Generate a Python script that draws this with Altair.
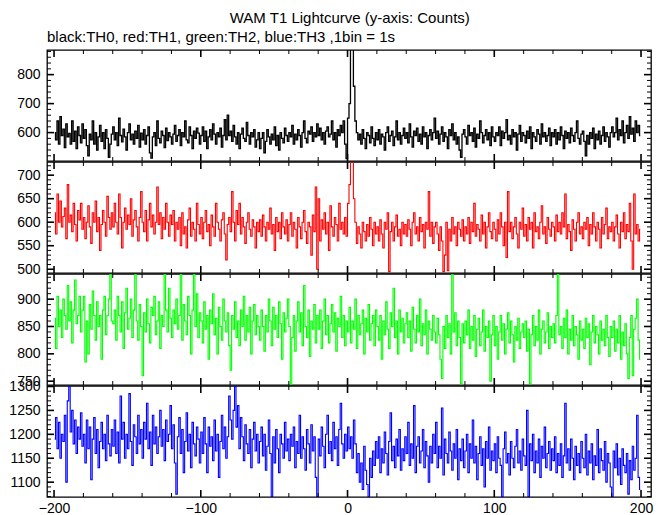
import math
import altair as alt
import pandas as pd

title_text = "WAM T1 Lightcurve (y-axis: Counts)"
subtitle_text = "black:TH0, red:TH1, green:TH2, blue:TH3 ,1bin = 1s"

# TH0 (black), counts per 1 s bin, t = -199.5 .. 199.5
th0 = [
    600, 575, 640, 560, 655, 590, 612, 548, 630, 585, 597, 560, 640, 570, 605, 545, 620, 590, 565, 630,
    580, 610, 555, 520, 595, 575, 640, 560, 600, 540, 585, 625, 570, 600, 545, 610, 580, 515, 560, 595,
    620, 575, 600, 555, 650, 590, 568, 612, 585, 540, 600, 630, 575, 595, 560, 605, 580, 625, 550, 598,
    575, 610, 560, 590, 620, 530, 512, 585, 600, 555, 640, 580, 565, 605, 590, 548, 615, 572, 600, 585,
    560, 595, 625, 570, 590, 610, 555, 600, 585, 640, 575, 565, 620, 590, 545, 605, 580, 615, 598, 560,
    590, 620, 570, 605, 545, 585, 610, 575, 630, 595, 560, 600, 585, 615, 550, 590, 645, 575, 660, 590,
    605, 570, 625, 585, 560, 600, 545, 595, 615, 580, 570, 635, 590, 560, 600, 585, 610, 550, 575, 600,
    545, 580, 600, 530, 570, 610, 585, 560, 595, 575, 620, 555, 590, 540, 600, 580, 565, 615, 590, 570,
    600, 585, 625, 560, 595, 575, 610, 590, 550, 600, 640, 580, 565, 605, 595, 620, 570, 600, 585, 630,
    590, 615, 575, 600, 560, 605, 620, 585, 595, 640, 575, 600, 550, 610, 590, 625, 600, 640, 560, 510,
    650, 700, 920, 900, 760, 640, 600, 575, 595, 560, 610, 580, 545, 600, 590, 565, 620, 580, 555, 600,
    575, 610, 560, 595, 585, 540, 600, 620, 570, 590, 605, 555, 585, 640, 575, 600, 560, 590, 615, 580,
    600, 565, 630, 585, 550, 605, 590, 615, 570, 595, 560, 620, 585, 600, 545, 590, 610, 575, 600, 650,
    580, 605, 560, 595, 620, 570, 600, 585, 545, 610, 590, 630, 575, 600, 560, 585, 540, 515, 595, 610,
    585, 560, 625, 590, 600, 570, 615, 550, 595, 580, 640, 600, 565, 590, 610, 575, 600, 555, 620, 585,
    570, 600, 590, 620, 555, 605, 580, 600, 645, 575, 590, 560, 610, 585, 600, 540, 595, 625, 570, 600,
    590, 565, 605, 580, 620, 545, 600, 585, 570, 610, 595, 560, 630, 585, 600, 570, 590, 615, 555, 600,
    585, 610, 560, 600, 575, 620, 590, 545, 605, 580, 600, 565, 615, 590, 570, 600, 640, 580, 560, 595,
    605, 570, 520, 590, 560, 600, 580, 615, 545, 595, 575, 605, 560, 590, 620, 570, 600, 585, 550, 600,
    620, 585, 600, 650, 575, 610, 590, 640, 565, 600, 625, 580, 655, 595, 615, 570, 640, 600, 625, 590,
]

# TH1 (red)
th1 = [
    620, 575, 660, 600, 645, 590, 612, 630, 565, 680, 600, 615, 580, 640, 595, 560, 625, 605, 640, 585,
    610, 565, 600, 635, 590, 555, 620, 600, 645, 580, 610, 540, 595, 625, 600, 570, 655, 610, 585, 620,
    590, 640, 600, 575, 660, 610, 545, 600, 630, 585, 615, 595, 650, 570, 605, 625, 590, 560, 610, 665,
    600, 580, 625, 560, 605, 640, 590, 615, 575, 600, 675, 595, 620, 565, 610, 585, 640, 600, 570, 615,
    595, 625, 560, 600, 585, 610, 550, 620, 575, 590, 545, 605, 630, 570, 600, 585, 560, 640, 595, 575,
    610, 565, 600, 625, 580, 595, 550, 615, 590, 570, 640, 600, 585, 560, 605, 620, 575, 520, 595, 610,
    580, 665, 600, 560, 625, 595, 640, 575, 610, 590, 555, 600, 620, 585, 570, 605, 590, 545, 600, 580,
    605, 570, 615, 590, 560, 600, 585, 630, 575, 595, 540, 610, 580, 600, 565, 620, 590, 575, 605, 560,
    595, 620, 570, 600, 585, 545, 610, 590, 565, 600, 625, 580, 555, 600, 590, 530, 615, 580, 675, 500,
    650, 560, 605, 585, 620, 575, 600, 540, 635, 590, 570, 610, 595, 560, 640, 585, 600, 575, 610, 570,
    640, 680, 760, 740, 650, 600, 555, 590, 575, 545, 600, 580, 560, 595, 570, 610, 585, 550, 600, 575,
    590, 560, 605, 575, 545, 600, 585, 620, 495, 580, 600, 560, 590, 615, 570, 585, 550, 600, 575, 595,
    570, 605, 585, 550, 600, 620, 575, 590, 560, 610, 580, 595, 545, 600, 585, 665, 570, 600, 555, 590,
    600, 575, 540, 590, 560, 495, 530, 600, 497, 585, 560, 610, 575, 590, 550, 600, 585, 570, 605, 560,
    590, 575, 610, 555, 600, 580, 640, 570, 595, 585, 560, 615, 575, 600, 545, 590, 620, 580, 565, 600,
    585, 560, 605, 575, 620, 590, 550, 600, 525, 665, 580, 600, 565, 590, 610, 575, 545, 600, 585, 630,
    570, 595, 560, 610, 585, 600, 545, 620, 580, 590, 565, 600, 635, 575, 590, 555, 610, 585, 570, 600,
    590, 560, 615, 580, 600, 575, 620, 590, 660, 565, 595, 580, 540, 605, 585, 560, 600, 620, 575, 590,
    565, 600, 585, 610, 550, 595, 575, 620, 590, 560, 600, 585, 545, 610, 575, 595, 630, 565, 590, 580,
    600, 560, 590, 615, 575, 545, 600, 580, 620, 565, 595, 580, 640, 560, 500, 660, 575, 595, 560, 585,
]

# TH2 (green)
th2 = [
    865, 810, 905, 850, 880, 830, 900, 870, 845, 925, 860, 895, 820, 880, 935, 855, 870, 905, 840, 880,
    905, 785, 860, 800, 890, 845, 915, 870, 825, 895, 850, 870, 790, 880, 905, 835, 870, 900, 945, 860,
    855, 880, 825, 905, 870, 840, 895, 810, 875, 920, 845, 865, 900, 830, 880, 945, 860, 825, 890, 850,
    760, 875, 840, 900, 855, 820, 885, 870, 905, 835, 860, 895, 810, 870, 850, 945, 880, 840, 920, 865,
    830, 880, 855, 900, 845, 870, 945, 825, 890, 860, 835, 905, 870, 800, 880, 945, 850, 910, 830, 875,
    860, 820, 895, 845, 870, 790, 880, 855, 910, 835, 865, 800, 885, 850, 825, 900, 860, 840, 875, 815,
    770, 870, 845, 895, 830, 860, 815, 880, 850, 905, 825, 870, 840, 885, 800, 860, 890, 835, 870, 850,
    825, 880, 850, 805, 870, 840, 900, 860, 815, 885, 845, 870, 830, 895, 855, 790, 875, 840, 865, 900,
    850, 740, 830, 870, 805, 860, 895, 840, 875, 815, 925, 850, 830, 880, 795, 860, 845, 890, 820, 870,
    845, 880, 810, 860, 900, 835, 870, 820, 855, 890, 840, 875, 805, 865, 850, 905, 830, 870, 815, 860,
    840, 885, 820, 860, 845, 900, 810, 870, 835, 855, 880, 800, 865, 840, 890, 825, 855, 870, 815, 880,
    850, 825, 870, 790, 860, 835, 895, 845, 810, 875, 850, 920, 830, 860, 800, 880, 840, 865, 820, 855,
    875, 830, 860, 805, 885, 845, 820, 870, 840, 900, 815, 855, 835, 880, 800, 860, 845, 825, 870, 840,
    820, 865, 835, 790, 755, 850, 810, 870, 830, 855, 800, 945, 840, 875, 815, 860, 830, 745, 855, 820,
    860, 835, 880, 810, 850, 825, 870, 795, 845, 865, 815, 840, 880, 805, 850, 830, 860, 750, 835, 870,
    815, 850, 790, 840, 870, 825, 855, 800, 845, 875, 820, 860, 835, 785, 850, 825, 865, 810, 840, 855,
    830, 860, 805, 845, 745, 835, 870, 815, 850, 825, 880, 800, 845, 860, 820, 840, 875, 810, 850, 830,
    855, 820, 870, 945, 835, 850, 810, 865, 830, 880, 800, 845, 825, 870, 815, 850, 835, 790, 860, 825,
    845, 810, 865, 830, 855, 780, 840, 870, 820, 850, 835, 800, 860, 825, 845, 815, 870, 830, 795, 850,
    830, 860, 805, 845, 820, 870, 790, 840, 815, 855, 800, 755, 830, 870, 760, 845, 865, 900, 825, 790,
]

# TH3 (blue)
th3 = [
    1190, 1235, 1170, 1225, 1150, 1200, 1185, 1240, 1100, 1270, 1300, 1205, 1250, 1180, 1230, 1160, 1215, 1190, 1245, 1175,
    1200, 1140, 1230, 1170, 1215, 1105, 1190, 1235, 1160, 1210, 1130, 1185, 1225, 1170, 1200, 1145, 1240, 1180, 1155, 1210,
    1175, 1230, 1160, 1205, 1140, 1280, 1190, 1225, 1150, 1200, 1170, 1285, 1185, 1135, 1220, 1195, 1160, 1240, 1180, 1210,
    1150, 1225, 1190, 1265, 1170, 1205, 1135, 1240, 1180, 1215, 1160, 1195, 1250, 1175, 1210, 1145, 1230, 1185, 1200, 1260,
    1170, 1220, 1140, 1075, 1195, 1235, 1160, 1210, 1120, 1185, 1245, 1165, 1200, 1130, 1225, 1180, 1155, 1215, 1190, 1140,
    1205, 1160, 1235, 1180, 1120, 1215, 1175, 1195, 1145, 1230, 1165, 1200, 1110, 1185, 1240, 1170, 1215, 1150, 1195, 1280,
    1230, 1190, 1250, 1300, 1215, 1260, 1170, 1235, 1195, 1145, 1220, 1180, 1160, 1210, 1130, 1190, 1225, 1165, 1200, 1140,
    1185, 1215, 1155, 1200, 1125, 1175, 1230, 1160, 1070, 1195, 1140, 1210, 1170, 1120, 1200, 1180, 1150, 1225, 1165, 1190,
    1145, 1200, 1175, 1215, 1130, 1185, 1160, 1240, 1150, 1195, 1170, 1125, 1210, 1180, 1140, 1220, 1165, 1195, 1110, 1070,
    1190, 1155, 1215, 1175, 1130, 1200, 1240, 1160, 1185, 1145, 1225, 1170, 1195, 1135, 1210, 1265, 1180, 1150, 1200, 1165,
    1215, 1170, 1195, 1150, 1230, 1180, 1120, 1160, 1100, 1140, 1085, 1175, 1125, 1095, 1070, 1150, 1110, 1165, 1135, 1185,
    1150, 1195, 1120, 1170, 1140, 1205, 1160, 1115, 1185, 1245, 1145, 1175, 1130, 1190, 1155, 1210, 1125, 1170, 1145, 1195,
    1160, 1225, 1135, 1180, 1150, 1260, 1120, 1175, 1195, 1140, 1165, 1210, 1130, 1185, 1155, 1100, 1175, 1140, 1200, 1160,
    1225, 1130, 1175, 1150, 1255, 1115, 1190, 1160, 1140, 1205, 1165, 1125, 1180, 1150, 1210, 1105, 1170, 1145, 1190, 1130,
    1165, 1200, 1120, 1180, 1150, 1230, 1140, 1175, 1105, 1160, 1195, 1135, 1170, 1090, 1185, 1150, 1215, 1125, 1165, 1145,
    1180, 1120, 1195, 1150, 1135, 1070, 1170, 1205, 1140, 1160, 1115, 1185, 1150, 1130, 1175, 1210, 1140, 1165, 1125, 1190,
    1155, 1135, 1250, 1070, 1180, 1145, 1200, 1120, 1165, 1140, 1190, 1110, 1175, 1150, 1215, 1130, 1160, 1185, 1125, 1170,
    1145, 1195, 1120, 1160, 1135, 1180, 1110, 1155, 1265, 1140, 1170, 1125, 1190, 1150, 1105, 1175, 1135, 1160, 1120, 1185,
    1150, 1130, 1200, 1115, 1165, 1140, 1180, 1105, 1155, 1135, 1210, 1120, 1170, 1145, 1125, 1185, 1100, 1160, 1140, 1090,
    1070, 1165, 1130, 1180, 1115, 1150, 1095, 1170, 1135, 1120, 1160, 1075, 1145, 1105, 1175, 1125, 1150, 1240, 1110, 1085,
]

# bin centres (1 bin = 1 s)
time_s = [-199.5 + i for i in range(len(th0))]

x_major = [-200, -100, 0, 100, 200]
x_minor_step = 20

th0_major = [600, 700, 800]
th1_major = [500, 550, 600, 650, 700]
th2_major = [750, 800, 850, 900]
th3_major = [1100, 1150, 1200, 1250, 1300]

W = 604
H = 111
FONT = "Liberation Sans"
XDOM = [-204.8, 206.8]


def xscale():
    return alt.Scale(domain=XDOM, nice=False, zero=False)


def yscale(d):
    return alt.Scale(domain=d, nice=False, zero=False)


def minor_ticks(dom, step, major):
    start = int(math.ceil(dom[0] / step) * step)
    return [v for v in range(start, int(dom[1]) + 1, step) if v not in major]


def panel(values, color, sw, ydom, major, ystep, show_x):
    yaxis = alt.Axis(values=major, ticks=False, domain=False, grid=False, title=None,
                     labelFont=FONT, labelFontSize=14, labelColor="black", labelPadding=7,
                     minExtent=38, maxExtent=38, labelOverlap=False, format="d")
    if show_x:
        xaxis = alt.Axis(values=x_major, ticks=False, domain=False, grid=False, title=None,
                         labelFont=FONT, labelFontSize=14, labelColor="black", labelPadding=4,
                         labelFlush=False, labelOverlap=False, format="d")
    else:
        xaxis = None

    def X(field):
        return alt.X(field, scale=xscale(), axis=xaxis)

    def Y(field):
        return alt.Y(field, scale=yscale(ydom), axis=yaxis)

    df = pd.DataFrame({"t": time_s, "c": values})
    line = alt.Chart(df).mark_line(color=color, strokeWidth=sw, interpolate="step", clip=True).encode(
        x=X("t:Q"), y=Y("c:Q"))
    layers = [line]
    ymin = minor_ticks(ydom, ystep, major)
    for vals, L, w in [(major, 7, 1.6), (ymin, 4, 1.0)]:
        d = pd.DataFrame({"c": vals})
        layers.append(alt.Chart(d).mark_rule(color="black", strokeWidth=w).encode(
            y=Y("c:Q"), x=alt.value(0), x2=alt.value(L)))
        layers.append(alt.Chart(d).mark_rule(color="black", strokeWidth=w).encode(
            y=Y("c:Q"), x=alt.value(W - L), x2=alt.value(W)))
    xmin = minor_ticks(XDOM, x_minor_step, x_major)
    for vals, L, w in [(x_major, 7, 1.6), (xmin, 4, 1.0)]:
        d = pd.DataFrame({"t": vals})
        layers.append(alt.Chart(d).mark_rule(color="black", strokeWidth=w).encode(
            x=X("t:Q"), y=alt.value(0), y2=alt.value(L)))
        layers.append(alt.Chart(d).mark_rule(color="black", strokeWidth=w).encode(
            x=X("t:Q"), y=alt.value(H - L), y2=alt.value(H)))
    return alt.layer(*layers).properties(width=W, height=H)


p0 = panel(th0, "#000000", 1.3, [502, 885], th0_major, 20, False).properties(
    title=alt.TitleParams(subtitle_text, anchor="start", frame="group", font=FONT, fontSize=15,
                          fontWeight="normal", color="black", offset=4)
)
p1 = panel(th1, "#ff0000", 1.1, [492, 728], th1_major, 10, False)
p2 = panel(th2, "#00ff00", 1.1, [743, 946], th2_major, 10, False)
p3 = panel(th3, "#0000ff", 1.1, [1069, 1301], th3_major, 10, True)

chart = alt.vconcat(p0, p1, p2, p3, spacing=1, bounds="flush").properties(
    title=alt.TitleParams(title_text, anchor="middle", dx=19, font=FONT, fontSize=15,
                          fontWeight="normal", color="black", offset=4),
    padding={"left": 0, "top": 2, "right": 5, "bottom": 0},
).configure_view(stroke="black", strokeWidth=1.3)

chart.save("out.html", embed_options={"renderer": "svg", "actions": False})
